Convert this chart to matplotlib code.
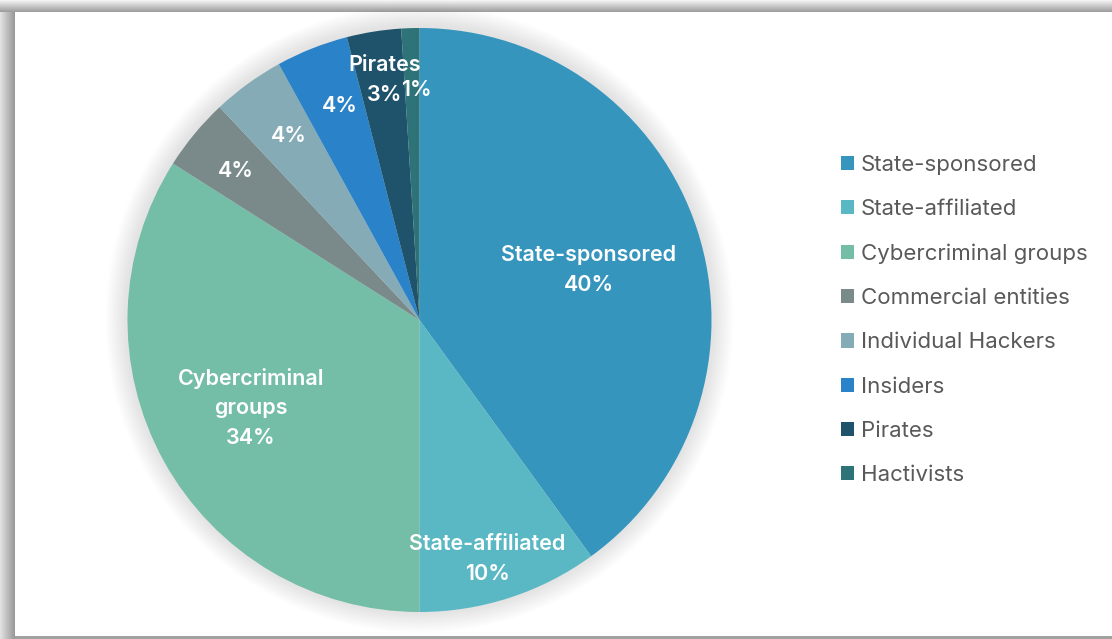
import numpy as np
import matplotlib.pyplot as plt
from matplotlib.patches import Circle

plt.rcParams['font.family'] = ['Inter', 'DejaVu Sans']

actors = ['State-sponsored', 'State-affiliated', 'Cybercriminal groups',
          'Commercial entities', 'Individual Hackers', 'Insiders',
          'Pirates', 'Hactivists']
shares = [40, 10, 34, 4, 4, 4, 3, 1]
# labels that carry the category name in the slice
inner_names = [['State-sponsored'], ['State-affiliated'], ['Cybercriminal', 'groups'],
               [], [], [], ['Pirates'], []]
colors = ['#3595bd', '#5ab8c4', '#74bda7', '#7a8a8a',
          '#85abb7', '#2a82c9', '#1f536b', '#2e7377']

# label placement: radial distance and a small pixel nudge (dx, dy up)
label_r = [0.61, 0.84, 0.65, 0.82, 0.78, 0.79, 0.84, 0.79]
nudge = [(0, -5), (-8, -6), (-2, 3), (1, -4), (3, 0), (5, 0), (3, -2), (4, -1)]
line_px = 30

W, H = 1112, 639
fig = plt.figure(figsize=(W / 100, H / 100), dpi=100)

# frame with soft shadow on top/left and a thin line at the bottom
bg = np.ones((H, W))
top = np.linspace(0.95, 0.62, 12)
bg[:12, :] = top[:, None]
left = np.linspace(0.88, 0.60, 15)
bg[12:, :15] = left[None, :]
bg[636:639, 15:] = 0.63
bax = fig.add_axes([0, 0, 1, 1])
bax.imshow(bg, cmap='gray', vmin=0, vmax=1, aspect='auto', interpolation='bilinear')
bax.axis('off')

cx, cy, r = 419.5, 320, 292
ax = fig.add_axes([(cx - r) / W, (H - cy - r) / H, 2 * r / W, 2 * r / H])
ax.set_xlim(-1, 1)
ax.set_ylim(-1, 1)
ax.set_aspect('equal')
ax.axis('off')

# faint shadow around the pie
for i in range(16):
    ax.add_patch(Circle((0, 0.004), 1 + 0.005 * i, color='#909090', alpha=0.012,
                        lw=0, zorder=0, clip_on=False))

wedges, _ = ax.pie(shares, colors=colors, startangle=90, counterclock=False,
                   radius=1, wedgeprops=dict(linewidth=0), frame=False)
ax.set_xlim(-1, 1)
ax.set_ylim(-1, 1)

start = 90.0
for val, name, d, (nx, ny) in zip(shares, inner_names, label_r, nudge):
    mid = np.deg2rad(start - val * 3.6 / 2)
    start -= val * 3.6
    lines = name + [f'{val}%']
    n = len(lines)
    for k, line in enumerate(lines):
        oy = ny + ((n - 1) / 2 - k) * line_px
        ax.annotate(line, (d * np.cos(mid), d * np.sin(mid)),
                    xytext=(nx * 0.72, oy * 0.72), textcoords='offset points',
                    ha='center', va='center', color='white', fontsize=15.5,
                    fontweight='semibold', zorder=5)

fig.legend(wedges, actors, loc='upper left', bbox_to_anchor=(841 / W, 1 - 155 / H),
           frameon=False, fontsize=16, labelcolor='#595959',
           handlelength=0.6, handleheight=0.6, handletextpad=0.3,
           labelspacing=1.09, borderpad=0, borderaxespad=0)

fig.savefig('out.png', dpi=100)
